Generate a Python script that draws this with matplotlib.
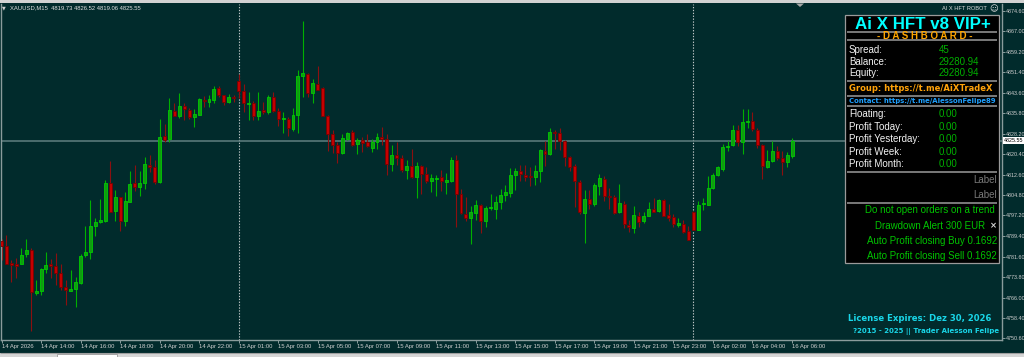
import numpy as np
import matplotlib.pyplot as plt
from matplotlib.patches import Rectangle, Polygon
from matplotlib.transforms import blended_transform_factory

plt.rcParams['font.family'] = ['Liberation Sans', 'DejaVu Sans']

# XAUUSD M15 candles (bar 0 = 14 Apr 12:00)
opens = [4787.4, 4785.6, 4779.2, 4778.6, 4778.8, 4782.6, 4784.1, 4767.8, 4768.5, 4776.7,
         4778.7, 4778.1, 4775.4, 4770.0, 4768.6, 4769.4, 4771.7, 4782.1, 4783.3, 4793.1,
         4794.6, 4795.1, 4809.5, 4798.8, 4804.2, 4795.1, 4802.4, 4809.3, 4807.8, 4809.5,
         4816.3, 4815.5, 4809.7, 4827.1, 4826.1, 4836.8, 4835.0, 4838.7, 4837.2, 4834.4,
         4835.4, 4841.0, 4840.3, 4840.8, 4845.4, 4842.6, 4840.1, 4841.8, 4848.1, 4844.4,
         4839.4, 4839.8, 4834.7, 4837.2, 4836.3, 4842.2, 4836.9, 4833.6, 4833.7, 4829.9,
         4835.3, 4850.0, 4850.7, 4843.5, 4846.9, 4845.4, 4834.8, 4828.0, 4823.8, 4820.8,
         4826.1, 4828.7, 4824.2, 4825.6, 4824.8, 4822.7, 4825.0, 4826.7, 4826.1, 4816.6,
         4819.9, 4818.9, 4814.3, 4816.0, 4811.7, 4816.0, 4812.7, 4810.3, 4811.0, 4811.7,
         4809.8, 4810.3, 4818.3, 4805.3, 4797.9, 4796.2, 4798.0, 4801.3, 4795.0, 4799.9,
         4799.8, 4802.2, 4804.9, 4805.7, 4812.5, 4814.0, 4812.6, 4812.1, 4811.6, 4814.1,
         4821.7, 4820.4, 4828.9, 4828.4, 4825.2, 4819.4, 4815.9, 4810.0, 4798.1, 4803.5,
         4801.6, 4808.5, 4811.1, 4804.7, 4804.2, 4798.5, 4801.6, 4793.7, 4792.5, 4797.1,
         4794.9, 4797.1, 4799.6, 4798.8, 4803.2, 4797.5, 4796.4, 4793.7, 4794.0, 4791.2,
         4798.5, 4791.8, 4801.4, 4801.3, 4807.4, 4812.6, 4814.9, 4823.1, 4823.7, 4829.6,
         4825.0, 4832.5, 4833.0, 4829.6, 4824.0, 4815.4, 4817.9, 4821.4, 4818.9, 4817.3,
         4819.73]
highs = [4788.3, 4789.6, 4780.2, 4781.1, 4785.0, 4788.3, 4784.8, 4772.9, 4777.3, 4783.4,
         4780.5, 4783.0, 4778.6, 4772.7, 4776.6, 4773.8, 4782.4, 4793.1, 4803.2, 4796.2,
         4803.5, 4810.7, 4817.9, 4806.7, 4804.2, 4806.1, 4813.9, 4816.4, 4814.1, 4819.4,
         4820.2, 4818.3, 4833.7, 4831.9, 4841.6, 4839.9, 4843.5, 4839.9, 4837.8, 4837.4,
         4841.5, 4842.5, 4842.7, 4846.1, 4846.3, 4842.7, 4843.2, 4842.6, 4850.7, 4847.0,
         4844.1, 4840.7, 4844.1, 4840.3, 4842.9, 4844.1, 4837.8, 4836.3, 4834.4, 4837.8,
         4852.3, 4871.0, 4851.0, 4848.8, 4853.6, 4846.0, 4835.3, 4829.6, 4824.8, 4828.1,
         4828.9, 4829.6, 4826.5, 4826.7, 4828.0, 4826.1, 4828.4, 4830.6, 4828.0, 4823.9,
         4825.0, 4819.9, 4818.0, 4822.4, 4817.3, 4816.4, 4815.6, 4813.0, 4812.6, 4814.5,
         4813.2, 4819.2, 4819.9, 4807.3, 4804.0, 4800.6, 4803.2, 4801.5, 4800.6, 4805.4,
         4804.7, 4807.3, 4808.6, 4815.1, 4815.1, 4816.4, 4816.1, 4815.5, 4816.4, 4822.3,
         4825.2, 4830.2, 4829.6, 4830.2, 4825.8, 4819.8, 4816.6, 4810.7, 4806.7, 4806.9,
         4809.5, 4812.9, 4812.0, 4807.6, 4805.1, 4809.2, 4802.8, 4795.6, 4800.9, 4798.4,
         4798.6, 4802.3, 4803.6, 4803.4, 4803.4, 4801.6, 4797.9, 4796.2, 4795.6, 4793.1,
         4799.0, 4802.5, 4803.8, 4812.0, 4813.2, 4815.8, 4824.2, 4825.2, 4831.3, 4831.3,
         4837.6, 4837.4, 4836.2, 4830.3, 4824.2, 4822.1, 4825.2, 4823.6, 4821.7, 4821.2,
         4826.52]
lows = [4780.2, 4778.6, 4772.0, 4773.5, 4778.6, 4781.5, 4753.4, 4767.1, 4767.1, 4775.4,
        4773.3, 4770.7, 4768.9, 4763.2, 4768.5, 4762.6, 4771.3, 4781.5, 4780.5, 4789.3,
        4794.3, 4794.8, 4798.4, 4795.1, 4791.2, 4793.3, 4802.2, 4806.6, 4804.7, 4807.2,
        4813.5, 4809.2, 4809.5, 4825.1, 4825.0, 4834.7, 4834.0, 4833.3, 4833.8, 4830.5,
        4835.2, 4838.4, 4838.4, 4839.7, 4842.2, 4839.1, 4839.7, 4840.3, 4841.8, 4836.5,
        4833.4, 4833.4, 4833.4, 4835.5, 4835.7, 4836.4, 4831.1, 4828.4, 4827.1, 4829.0,
        4828.4, 4842.0, 4842.2, 4839.7, 4844.5, 4834.7, 4821.7, 4820.8, 4817.0, 4820.4,
        4825.6, 4823.6, 4820.4, 4821.1, 4823.1, 4821.1, 4822.3, 4823.9, 4812.6, 4814.0,
        4816.4, 4813.5, 4811.0, 4811.4, 4803.8, 4805.4, 4809.5, 4805.9, 4804.4, 4806.3,
        4805.4, 4810.0, 4792.8, 4797.7, 4795.2, 4786.2, 4795.6, 4790.6, 4792.8, 4799.4,
        4795.9, 4799.8, 4802.5, 4804.1, 4806.9, 4810.1, 4810.1, 4808.2, 4808.8, 4809.8,
        4815.8, 4819.9, 4822.3, 4821.8, 4815.8, 4813.9, 4800.4, 4797.9, 4786.8, 4799.6,
        4800.6, 4805.1, 4802.5, 4799.8, 4797.9, 4798.1, 4792.5, 4790.8, 4790.6, 4792.8,
        4794.3, 4796.9, 4798.4, 4798.4, 4796.9, 4795.2, 4792.8, 4792.8, 4790.6, 4787.8,
        4791.6, 4791.6, 4799.4, 4801.0, 4807.2, 4812.2, 4814.1, 4821.7, 4823.3, 4823.3,
        4820.5, 4830.2, 4829.0, 4822.7, 4811.0, 4815.1, 4817.3, 4818.3, 4812.4, 4815.4,
        4819.06]
closes = [4785.5, 4778.8, 4778.3, 4778.1, 4782.2, 4784.1, 4768.1, 4768.6, 4776.8, 4778.3,
          4778.0, 4775.4, 4770.0, 4768.8, 4769.4, 4771.8, 4781.9, 4783.4, 4793.1, 4794.8,
          4795.3, 4809.5, 4798.6, 4804.2, 4795.0, 4802.5, 4809.1, 4808.0, 4809.6, 4816.6,
          4815.4, 4809.7, 4826.8, 4825.6, 4837.1, 4834.7, 4838.7, 4837.4, 4834.4, 4835.5,
          4841.1, 4840.5, 4841.2, 4845.0, 4842.9, 4840.1, 4842.0, 4841.6, 4844.2, 4839.7,
          4839.9, 4834.8, 4836.9, 4836.3, 4842.2, 4836.9, 4833.7, 4833.8, 4830.2, 4835.3,
          4850.0, 4851.0, 4843.5, 4847.3, 4844.7, 4834.7, 4828.0, 4823.8, 4820.8, 4826.5,
          4828.4, 4823.8, 4825.6, 4824.6, 4823.3, 4825.0, 4826.9, 4826.1, 4816.6, 4819.9,
          4818.8, 4814.5, 4816.0, 4811.6, 4816.0, 4812.7, 4810.2, 4811.4, 4811.4, 4810.1,
          4810.5, 4818.3, 4805.2, 4798.1, 4796.2, 4798.5, 4801.3, 4795.0, 4800.0, 4800.5,
          4802.3, 4804.8, 4806.1, 4812.6, 4814.0, 4812.9, 4811.6, 4811.7, 4814.1, 4821.8,
          4820.3, 4828.7, 4828.4, 4825.2, 4819.3, 4815.5, 4810.1, 4798.4, 4803.4, 4801.5,
          4808.6, 4811.4, 4804.4, 4804.1, 4798.1, 4801.9, 4793.8, 4792.8, 4797.4, 4794.7,
          4797.1, 4799.6, 4798.6, 4803.2, 4797.1, 4796.1, 4794.0, 4794.3, 4791.0, 4788.0,
          4791.8, 4801.0, 4801.8, 4807.6, 4812.6, 4815.4, 4823.1, 4823.6, 4829.6, 4825.0,
          4832.5, 4833.0, 4829.9, 4823.7, 4815.8, 4817.9, 4821.4, 4818.9, 4817.3, 4820.2,
          4825.55]

time_labels = ["14 Apr 2026", "14 Apr 14:00", "14 Apr 16:00", "14 Apr 18:00", "14 Apr 20:00",
               "14 Apr 22:00", "15 Apr 01:00", "15 Apr 03:00", "15 Apr 05:00", "15 Apr 07:00",
               "15 Apr 09:00", "15 Apr 11:00", "15 Apr 13:00", "15 Apr 15:00", "15 Apr 17:00",
               "15 Apr 19:00", "15 Apr 21:00", "15 Apr 23:00", "16 Apr 02:00", "16 Apr 04:00",
               "16 Apr 06:00"]
price_ticks = [4874.60, 4867.00, 4859.20, 4851.40, 4843.60, 4835.80, 4828.20, 4820.40,
               4812.60, 4804.80, 4797.20, 4789.40, 4781.60, 4773.80, 4766.00, 4758.40, 4750.60]
day_breaks = [48, 140]
last_price = 4825.55

rows_top = [("Spread:", "45"), ("Balance:", "29280.94"), ("Equity:", "29280.94")]
rows_profit = [("Floating:", "0.00"), ("Profit Today:", "0.00"), ("Profit Yesterday:", "0.00"),
               ("Profit Week:", "0.00"), ("Profit Month:", "0.00")]
alerts = ["Do not open orders on a trend", "Drawdown Alert 300 EUR",
          "Auto Profit closing Buy 0.1692", "Auto Profit closing Sell 0.1692"]

BG = '#012b2c'
W, H = 1024, 357

fig = plt.figure(figsize=(W / 100, H / 100), dpi=100, facecolor=BG)
ax = fig.add_axes([0.0005, 1 - 340 / H, 1001 / W, 336 / H], facecolor=BG)

o = np.array(opens); c = np.array(closes)
hi = np.array(highs); lo = np.array(lows)
x = np.arange(len(o))
up = c >= o

for xb in day_breaks:
    ax.axvline(xb, color='#c0c8c8', lw=0.8, ls=(0, (1.2, 1.4)), zorder=1)
ax.axhline(last_price, color='#5f7f80', lw=1.1, zorder=1)

ax.vlines(x[up], lo[up], hi[up], color='#00b000', lw=0.8, zorder=2)
ax.vlines(x[~up], lo[~up], hi[~up], color='#8b1010', lw=0.8, zorder=2)
body = np.maximum(np.abs(c - o), 0.3)
ax.bar(x[up], body[up], bottom=np.minimum(o, c)[up], width=0.6,
       color='#119a11', edgecolor='#00cc00', lw=0.6, zorder=3)
ax.bar(x[~up], body[~up], bottom=np.minimum(o, c)[~up], width=0.6,
       color='#c40000', edgecolor='#7a0000', lw=0.6, zorder=3)

ax.set_xlim(-0.2, 202.4)
ax.set_ylim(4750.0, 4877.25)

ax.set_xticks(np.arange(0, 8 * len(time_labels), 8))
ax.set_xticklabels(time_labels)
for t in ax.get_xticklabels():
    t.set_ha('left')
ax.tick_params(axis='x', colors='#9fb0b0', labelcolor='#d0d0d0', labelsize=4.2,
               length=2, width=0.6, pad=1)
ax.yaxis.tick_right()
ax.set_yticks(price_ticks)
ax.set_yticklabels([f"{p:.2f}" for p in price_ticks])
ax.tick_params(axis='y', colors='#9fb0b0', labelcolor='#d0d0d0', labelsize=3.9,
               length=2, width=0.6, pad=0.8)
for s in ['left', 'bottom', 'right']:
    ax.spines[s].set_color('#8a9c9c')
    ax.spines[s].set_linewidth(1.0)
ax.spines['top'].set_visible(False)

tr = blended_transform_factory(ax.transAxes, ax.transData)
ax.text(1.002, last_price, f"{last_price:.2f}", transform=tr, fontsize=3.9, color='black',
        va='center', ha='left', bbox=dict(fc='white', ec='none', pad=0.4), zorder=5)

# overlay in pixel coordinates for the window chrome and dashboard
ov = fig.add_axes([0, 0, 1, 1], facecolor='none')
ov.set_xlim(0, W); ov.set_ylim(H, 0); ov.axis('off')

ov.add_patch(Rectangle((0, 0), W, 3, fc='#d2d2d2', ec='none'))
ov.add_patch(Polygon([(796, 3.5), (804, 3.5), (800, 7)], closed=True, fc='#a8a8a8', ec='none'))
ov.add_patch(Rectangle((0, 352.5), W, 5, fc='#d6d6d6', ec='none'))
ov.add_patch(Rectangle((57, 353.5), 60, 4, fc='white', ec='#9a9a9a', lw=0.6))
ov.hlines(352.5, 0, W, color='#a0a0a0', lw=0.8)

ov.text(2, 8, '▼', fontsize=3.5, color='#d0d0d0', va='center', family='DejaVu Sans')
ov.text(10, 8, 'XAUUSD,M15  4819.73 4826.52 4819.06 4825.55', fontsize=4.2,
        color='#e0e0e0', va='center')
ov.text(942, 9, 'AI X HFT ROBOT', fontsize=4.1, color='#e0e0e0', va='center')
ov.text(994, 9, '☺', fontsize=6, color='#e0e0e0', ha='center', va='center', family='DejaVu Sans')

ov.add_patch(Rectangle((844.5, 14.5), 154.5, 248.5, fc='black', ec='#9a9a9a', lw=0.9))
ov.text(922.5, 24.2, 'Ai X HFT v8 VIP+', fontsize=12.2, weight='bold', color='#00ffff',
        ha='center', va='center')
ov.hlines([31.8, 39.5, 80.5, 95.5, 106, 171.5, 202.5], 847, 997, color='#9a9a9a', lw=1.1)
ov.text(924.7, 35.8, '- D A S H B O A R D -', fontsize=7, weight='bold', color='#ffa500',
        ha='center', va='center')

for (lab, val), yy in zip(rows_top, [50, 61.7, 73.3]):
    ov.text(849, yy, lab, fontsize=7, color='#f2f2f2', va='center')
    ov.text(939, yy, val, fontsize=7, color='#00b000', va='center')
ov.text(849, 88.3, 'Group: https://t.me/AiXTradeX', fontsize=6.05, weight='bold',
        color='#ffa20a', va='center', family='DejaVu Sans')
ov.text(849, 101, 'Contact: https://t.me/AlessonFelipe89', fontsize=4.95, weight='bold',
        color='#1fa0ff', va='center', family='DejaVu Sans')
for (lab, val), yy in zip(rows_profit, [114, 126.5, 139.2, 151.8, 163.8]):
    ov.text(849, yy, lab, fontsize=7, color='#f2f2f2', va='center')
    ov.text(939, yy, val, fontsize=7, color='#00b000', va='center')
for yy in [180, 195]:
    ov.text(996.5, yy, 'Label', fontsize=7, color='#7a7a7a', va='center', ha='right')

alert_pos = [(995, 210), (985, 226), (997, 240.7), (997, 255.7)]
for txt, (xx, yy) in zip(alerts, alert_pos):
    ov.text(xx, yy, txt, fontsize=7, color='#00c400', va='center', ha='right')
ov.text(993, 225.5, '×', fontsize=6, weight='bold', color='#d8d8d8', ha='center', va='center',
        family='DejaVu Sans')

ov.text(848, 318.5, 'License Expires: Dez 30, 2026', fontsize=6.1, weight='bold',
        color='#19d6e8', va='center', family='DejaVu Sans')
ov.text(853, 331.5, '?2015 - 2025 || Trader Alesson Felipe', fontsize=5, weight='bold',
        color='#19d6e8', va='center', family='DejaVu Sans')

fig.savefig('out.png', dpi=100, facecolor=BG)
